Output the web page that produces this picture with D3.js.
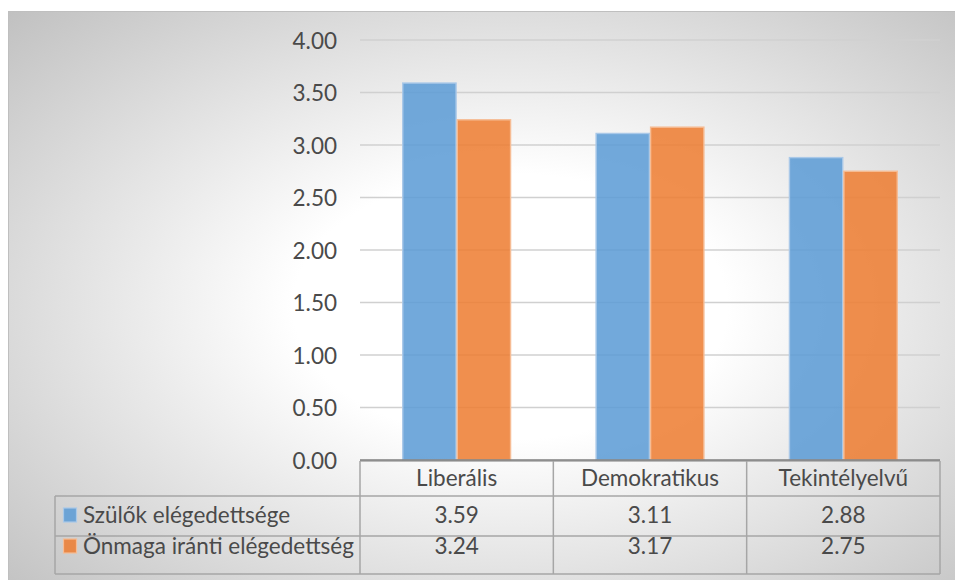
<!DOCTYPE html>
<html>
<head>
<meta charset="utf-8">
<script src="https://cdnjs.cloudflare.com/ajax/libs/d3/7.8.5/d3.min.js"></script>
<style>
  html, body { margin: 0; padding: 0; background: #ffffff; }
  svg { display: block; }
  text { font-family: Lato, "Noto Sans", sans-serif; font-weight: 400; fill: #4a4a4a; }
</style>
</head>
<body>
<svg id="chart" width="955" height="580"></svg>
<script>
// Parenting style categories and the two satisfaction series
const categories = ["Liberális", "Demokratikus", "Tekintélyelvű"];
const seriesNames = ["Szülők elégedettsége", "Önmaga iránti elégedettség"];
const parentSatisfaction = [3.59, 3.11, 2.88];
const selfSatisfaction = [3.24, 3.17, 2.75];
const yTicks = [0, 0.5, 1, 1.5, 2, 2.5, 3, 3.5, 4];
const seriesColors = ["#5B9BD5", "#ED7D31"];
const seriesStrokes = ["#a9c8e8", "#f6bc94"];

const values = [parentSatisfaction, selfSatisfaction];

const svg = d3.select("#chart");

// Plot area and data table geometry
const plot = { left: 360, right: 940, top: 40, bottom: 460 };
const legendLeft = 55;
const rowEdges = [461, 496, 536, 574];

const defs = svg.append("defs");
const grad = defs.append("radialGradient")
  .attr("id", "bg")
  .attr("cx", 0.52).attr("cy", 0.5).attr("r", 0.75)
  .attr("fx", 0.52).attr("fy", 0.5);
grad.append("stop").attr("offset", 0).attr("stop-color", "#ffffff");
grad.append("stop").attr("offset", 0.3).attr("stop-color", "#ffffff");
grad.append("stop").attr("offset", 1).attr("stop-color", "#bdbdbd");

// Chart background with radial shading and thin frame
svg.append("rect")
  .attr("x", 8.5).attr("y", 11.5)
  .attr("width", 965).attr("height", 590)
  .attr("fill", "url(#bg)")
  .attr("stroke", "#bfbfbf").attr("stroke-width", 1);

const y = d3.scaleLinear().domain([0, 4]).range([plot.bottom, plot.top]);
const x0 = d3.scaleBand().domain(categories).range([plot.left, plot.right]).padding(0);
const bw = x0.bandwidth();
const groupWidth = 109;
const x1 = d3.scaleBand().domain(seriesNames)
  .range([(bw - groupWidth) / 2, (bw + groupWidth) / 2]).padding(0);

// Horizontal gridlines
svg.append("g").selectAll("line")
  .data(yTicks.filter(d => d > 0))
  .join("line")
  .attr("x1", plot.left).attr("x2", plot.right)
  .attr("y1", d => y(d)).attr("y2", d => y(d))
  .attr("stroke", "#d0d0d0").attr("stroke-width", 1.3);

// Value axis labels
const yAxis = d3.axisLeft(y).tickValues(yTicks).tickFormat(d3.format(".2f")).tickSize(0).tickPadding(0);
const gy = svg.append("g").attr("transform", "translate(337,0)").call(yAxis);
gy.select(".domain").remove();
gy.selectAll("text")
  .attr("font-size", 22.5)
  .attr("font-family", "Lato, 'Noto Sans', sans-serif")
  .attr("font-weight", 400)
  .attr("fill", "#4a4a4a")
  .attr("dy", "0.36em");

// Bars
const groups = svg.append("g").selectAll("g")
  .data(categories)
  .join("g")
  .attr("transform", d => `translate(${x0(d)},0)`);

groups.selectAll("rect")
  .data((c, i) => seriesNames.map((s, k) => ({ s, k, v: values[k][i] })))
  .join("rect")
  .attr("x", d => x1(d.s) + 0.6)
  .attr("width", x1.bandwidth() - 1.2)
  .attr("y", d => y(d.v))
  .attr("height", d => y(0) - y(d.v))
  .attr("fill", d => seriesColors[d.k])
  .attr("fill-opacity", 0.86)
  .attr("stroke", d => seriesStrokes[d.k])
  .attr("stroke-width", 1.4);

// Data table grid
const tbl = svg.append("g").attr("stroke", "#a6a6a6").attr("stroke-width", 1.5).attr("fill", "none");
tbl.append("line").attr("x1", plot.left).attr("x2", plot.right).attr("y1", rowEdges[0]).attr("y2", rowEdges[0]);
rowEdges.slice(1).forEach(ry => {
  tbl.append("line").attr("x1", legendLeft).attr("x2", plot.right).attr("y1", ry).attr("y2", ry);
});
[plot.left].concat(categories.map(c => x0(c) + bw)).forEach(vx => {
  tbl.append("line").attr("x1", vx).attr("x2", vx).attr("y1", rowEdges[0]).attr("y2", rowEdges[3]);
});
tbl.append("line").attr("x1", legendLeft).attr("x2", legendLeft).attr("y1", rowEdges[1]).attr("y2", rowEdges[3]);

// Category axis line
svg.append("line")
  .attr("x1", plot.left).attr("x2", plot.right)
  .attr("y1", y(0)).attr("y2", y(0))
  .attr("stroke", "#7f7f7f").attr("stroke-width", 1.6);

// Header labels
svg.append("g").selectAll("text")
  .data(categories)
  .join("text")
  .attr("x", d => x0(d) + bw / 2)
  .attr("y", 486)
  .attr("text-anchor", "middle")
  .attr("font-size", 22.5)
  .text(d => d);

// Value rows and legend keys
const rowBase = [523, 554];
seriesNames.forEach((name, k) => {
  svg.append("rect")
    .attr("x", 63.5).attr("y", rowBase[k] - 15)
    .attr("width", 13).attr("height", 14)
    .attr("fill", seriesColors[k]).attr("fill-opacity", 0.86)
    .attr("stroke", seriesStrokes[k]).attr("stroke-width", 1.2);
  svg.append("text")
    .attr("x", 83)
    .attr("y", rowBase[k])
    .attr("font-size", 22.5)
    .text(name);
  svg.append("g").selectAll("text")
    .data(categories)
    .join("text")
    .attr("x", d => x0(d) + bw / 2)
    .attr("y", rowBase[k])
    .attr("text-anchor", "middle")
    .attr("font-size", 22.5)
    .text((d, i) => d3.format(".2f")(values[k][i]));
});
</script>
</body>
</html>
